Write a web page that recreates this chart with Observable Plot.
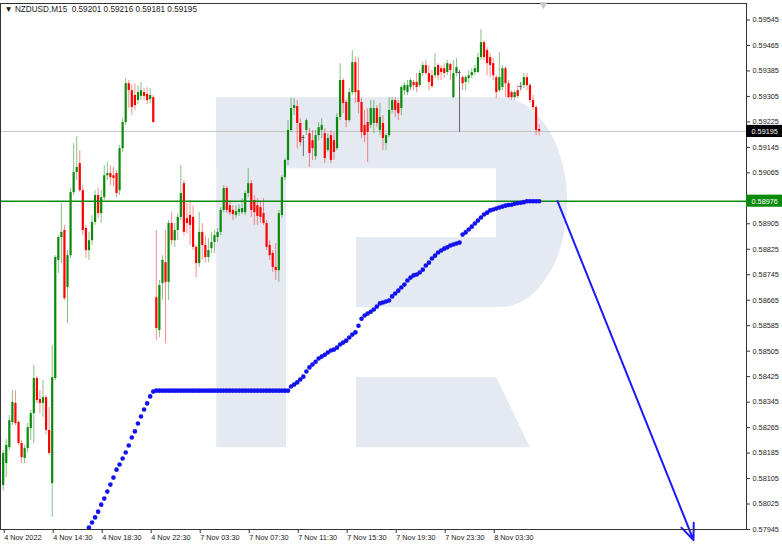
<!DOCTYPE html>
<html><head><meta charset="utf-8">
<script src="https://cdn.jsdelivr.net/npm/d3@7"></script>
<script src="https://cdn.jsdelivr.net/npm/@observablehq/plot@0.6"></script>
<style>
body{margin:0;background:#fff}
#chart{position:relative;width:782px;height:546px;overflow:hidden}
</style>
</head><body><div id="chart"></div>
<script>
// ---- data (NZDUSD M15, bar index 0 = 4 Nov 2022 10:30) ----
const openP = [
.58083,.58152,.58202,.58281,.58341,.58281,.58215,.58168,.58199,.58262,
.58309,.58419,.58353,.58341,.58359,.58256,.58089,.58419,.58790,.58862,
.58884,.58705,.58805,.59003,.59066,.59094,.59009,.58890,.58821,.58852,
.58909,.58994,.58937,.58987,.59056,.59063,.59056,.59063,.59009,.59141,
.59223,.59345,.59323,.59308,.59292,.59305,.59317,.59311,.59295,.59301,
.58673,.58570,.58717,.58783,.58721,.58906,.58852,.58884,.58925,.59031,
.58921,.58931,.58925,.58831,.58780,.58878,.58837,.58799,.58827,.58846,
.58862,.58878,.58947,.59016,.58962,.58947,.58931,.58940,.58940,.58940,
.59000,.59031,.58978,.58962,.58956,.58937,.58906,.58837,.58812,.58768,
.58758,.58931,.59050,.59104,.59198,.59267,.59273,.59220,.59176,.59198,
.59188,.59166,.59116,.59182,.59198,.59188,.59135,.59182,.59166,.59141,
.59239,.59355,.59286,.59229,.59317,.59411,.59323,.59286,.59214,.59223,
.59214,.59220,.59267,.59198,.59220,.59157,.59182,.59261,.59292,.59283,
.59267,.59323,.59317,.59333,.59349,.59349,.59339,.59377,.59402,.59377,
.59370,.59370,.59402,.59392,.59392,.59380,.59405,.59301,.59377,.59380,
.59364,.59349,.59361,.59370,.59380,.59380,.59427,.59474,.59449,.59427,
.59408,.59364,.59323,.59333,.59392,.59345,.59317,.59301,.59323,.59336,
.59339,.59364,.59339,.59292,.59270,.59201];
const highP = [
.58193,.58228,.58303,.58381,.58381,.58287,.58224,.58209,.58278,.58319,
.58460,.58425,.58381,.58413,.58366,.58328,.58523,.58805,.58868,.58969,
.58900,.58821,.59016,.59157,.59179,.59135,.59025,.58900,.58878,.58931,
.59009,.59016,.59009,.59088,.59097,.59088,.59082,.59072,.59151,.59235,
.59361,.59355,.59342,.59345,.59339,.59349,.59330,.59333,.59330,.59308,
.58884,.58727,.58805,.58884,.58915,.58940,.58906,.58937,.59088,.59041,
.58969,.58978,.58962,.58837,.58940,.58906,.58868,.58859,.58878,.58884,
.58890,.58956,.59025,.59022,.58978,.58962,.58962,.58965,.58984,.59009,
.59078,.59041,.58994,.58984,.58978,.58984,.58915,.58852,.58821,.58843,
.58947,.59056,.59110,.59229,.59301,.59298,.59292,.59235,.59182,.59235,
.59204,.59198,.59198,.59223,.59235,.59204,.59188,.59198,.59192,.59251,
.59408,.59361,.59292,.59330,.59449,.59427,.59427,.59298,.59261,.59267,
.59292,.59292,.59276,.59283,.59245,.59188,.59301,.59301,.59301,.59292,
.59339,.59349,.59355,.59361,.59355,.59377,.59386,.59411,.59418,.59402,
.59386,.59440,.59408,.59402,.59408,.59418,.59411,.59418,.59424,.59386,
.59370,.59370,.59386,.59392,.59402,.59440,.59515,.59480,.59458,.59440,
.59424,.59370,.59443,.59402,.59399,.59355,.59323,.59323,.59339,.59349,
.59377,.59377,.59345,.59308,.59276,.59216];
const lowP = [
.58067,.58108,.58193,.58271,.58271,.58209,.58152,.58152,.58184,.58224,
.58215,.58341,.58309,.58297,.58243,.58177,.57983,.58413,.58749,.58780,
.58664,.58592,.58796,.58994,.59041,.59003,.58868,.58796,.58790,.58837,
.58900,.58921,.58906,.58978,.59041,.59025,.59022,.58987,.58994,.59129,
.59214,.59267,.59245,.59261,.59279,.59292,.59292,.59279,.59283,.59220,
.58538,.58548,.58664,.58529,.58664,.58837,.58831,.58852,.58915,.58868,
.58874,.58837,.58821,.58736,.58768,.58790,.58783,.58783,.58812,.58812,
.58846,.58868,.58940,.58937,.58931,.58915,.58921,.58928,.58934,.58931,
.58987,.58925,.58900,.58900,.58906,.58900,.58821,.58790,.58752,.58727,
.58721,.58921,.59041,.59088,.59192,.59245,.59141,.59148,.59116,.59182,
.59082,.59104,.59104,.59166,.59173,.59094,.59129,.59094,.59104,.59135,
.59229,.59251,.59207,.59223,.59308,.59283,.59251,.59173,.59160,.59097,
.59204,.59188,.59207,.59182,.59135,.59135,.59176,.59251,.59239,.59229,
.59245,.59308,.59308,.59323,.59323,.59317,.59333,.59367,.59370,.59323,
.59330,.59361,.59355,.59355,.59361,.59370,.59355,.59298,.59367,.59192,
.59323,.59323,.59345,.59361,.59370,.59377,.59418,.59418,.59370,.59364,
.59355,.59298,.59317,.59323,.59301,.59298,.59292,.59292,.59298,.59323,
.59330,.59323,.59283,.59261,.59182,.59181];
const closeP = [
.58184,.58209,.58287,.58344,.58278,.58215,.58171,.58199,.58265,.58309,
.58419,.58350,.58341,.58359,.58256,.58184,.58422,.58799,.58862,.58878,
.58670,.58805,.59003,.59066,.59082,.59009,.58884,.58821,.58852,.58909,
.58994,.58937,.58987,.59056,.59063,.59050,.59047,.59000,.59141,.59223,
.59345,.59323,.59270,.59276,.59317,.59323,.59305,.59292,.59308,.59223,
.58576,.58711,.58790,.58721,.58906,.58852,.58884,.58925,.59000,.58878,
.58906,.58900,.58831,.58780,.58878,.58837,.58799,.58821,.58846,.58868,
.58878,.58947,.59016,.58947,.58940,.58934,.58943,.58950,.58953,.59000,
.59031,.58947,.58940,.58928,.58925,.58906,.58831,.58805,.58768,.58758,
.58937,.59050,.59104,.59198,.59267,.59276,.59220,.59160,.59176,.59229,
.59126,.59141,.59182,.59207,.59214,.59110,.59173,.59104,.59129,.59239,
.59355,.59283,.59229,.59317,.59411,.59317,.59286,.59192,.59182,.59192,
.59267,.59267,.59220,.59239,.59173,.59182,.59261,.59292,.59261,.59251,
.59333,.59339,.59339,.59355,.59339,.59333,.59377,.59402,.59377,.59349,
.59336,.59396,.59370,.59380,.59377,.59408,.59386,.59377,.59396,.59380,
.59345,.59364,.59370,.59380,.59392,.59427,.59474,.59427,.59408,.59402,
.59370,.59317,.59364,.59392,.59345,.59301,.59301,.59317,.59305,.59336,
.59364,.59339,.59292,.59270,.59198,.59195];

// blue dotted indicator, one value per bar starting at bar 27
const indicatorStart = 27;
const indicator = [
.57932,.57951,.57967,.57983,.58001,.58023,.58042,.58064,.58086,.58108,
.58133,.58149,.58168,.58187,.58209,.58234,.58253,.58278,.58300,.58322,
.58341,.58363,.58378,
.58381,.58381,.58381,.58381,.58381,.58381,.58381,.58381,.58381,.58381,
.58381,.58381,.58381,.58381,.58381,.58381,.58381,.58381,.58381,.58381,
.58381,.58381,.58381,.58381,.58381,.58381,.58381,.58381,.58381,.58381,
.58381,.58381,.58381,.58381,.58381,.58381,.58381,.58381,.58381,.58381,
.58381,.58381,.58381,.58381,
.58394,.58400,.58407,.58416,.58425,.58441,.58454,.58463,.58472,.58482,
.58488,.58494,.58501,.58507,.58510,.58516,.58526,.58532,.58538,.58548,
.58557,.58564,.58585,.58607,.58617,.58623,.58629,.58636,.58645,.58655,
.58658,.58661,.58664,.58677,.58686,.58695,.58705,.58714,.58727,.58736,
.58743,.58746,.58752,.58761,.58774,.58783,.58796,.58805,.58815,.58821,
.58827,.58831,.58837,.58840,.58843,.58846,.58871,.58878,.58887,.58896,
.58906,.58915,.58925,.58934,.58940,.58947,.58950,.58953,.58956,.58959,
.58962,.58964,.58965,.58968,.58970,.58971,.58973,.58976,.58976,.58976,
.58976,.58976];

const timeTickBars = [0,16,32,48,64,80,96,112,128,144,160];
const timeTickLabels = ["4 Nov 2022","4 Nov 14:30","4 Nov 18:30","4 Nov 22:30","7 Nov 03:30",
  "7 Nov 07:30","7 Nov 11:30","7 Nov 15:30","7 Nov 19:30","7 Nov 23:30","8 Nov 03:30"];
const priceTicks = [0.57945,0.58025,0.58105,0.58185,0.58265,0.58345,0.58425,0.58505,0.58585,0.58665,
  0.58745,0.58825,0.58905,0.58985,0.59065,0.59145,0.59225,0.59305,0.59385,0.59465,0.59545];
const hiddenTick = 0.58985; // covered by the level tag
const bidPrice = 0.59195;
const levelPrice = 0.58976;
const forecast = [{bar1: 181, p1: 0.58976, bar2: 225.4, p2: 0.57912}];
const shiftMarkBar = 176.4;
const header = "\u25BC NZDUSD,M15\u00a0\u00a00.59201 0.59216 0.59181 0.59195";

// watermark logo, in bar / price units
const logoBowl = [{x1: 115.4, x2: 184.3, y1: 0.58642, y2: 0.59301}];
const logoBlocks = [
  {x1: 69.7, x2: 92.5, y1: 0.58202, y2: 0.59301},
  {x1: 69.7, x2: 162.4, y1: 0.59078, y2: 0.59301},
  {x1: 115.4, x2: 162.4, y1: 0.58642, y2: 0.58862}];
const logoHole = [{x1: 92.5, x2: 161.1, y1: 0.58862, y2: 0.59078}];
const logoLeg = [{x: 115.4, lo: 0.58202, hi: 0.58422}, {x: 161.1, lo: 0.58202, hi: 0.58422}, {x: 172.2, lo: 0.58202, hi: 0.58202}];

// ---- build tables ----
const bars = openP.map((o, i) => ({i, o, h: highP[i], l: lowP[i], c: closeP[i]}));
const up = bars.filter(d => d.c > d.o);
const down = bars.filter(d => d.c < d.o);
const flat = bars.filter(d => d.c === d.o);
const ind = indicator.map((v, k) => ({i: indicatorStart + k, v}));
const xMin = -0.88, xMax = 242.7, yMin = 0.57945, yMax = 0.595968;
const tags = [{p: bidPrice, bg: "#000000"}, {p: levelPrice, bg: "#0a8a0a"}];

const GREEN = "#0b8a0b", RED = "#ff0000", LOGO = "#e4e9f2";

const chart = Plot.plot({
  width: 782, height: 546,
  marginLeft: 0, marginRight: 36, marginTop: 3, marginBottom: 17,
  style: {fontFamily: "'Liberation Sans', Arial, sans-serif", fontSize: "7.3px", color: "#222", background: "#fff", overflow: "visible"},
  x: {domain: [xMin, xMax], axis: null},
  y: {domain: [yMin, yMax], axis: null},
  marks: [
    // watermark
    Plot.rect(logoBowl, {x1: "x1", x2: "x2", y1: "y1", y2: "y2", fill: LOGO, rx: 67, ry: 105}),
    Plot.rect(logoHole, {x1: "x1", x2: "x2", y1: "y1", y2: "y2", fill: "#ffffff"}),
    Plot.rect(logoBlocks, {x1: "x1", x2: "x2", y1: "y1", y2: "y2", fill: LOGO}),
    Plot.areaY(logoLeg, {x: "x", y1: "lo", y2: "hi", fill: LOGO}),
    // bid line
    Plot.ruleY([bidPrice], {stroke: "#c4c4c4", strokeWidth: 1}),
    // wicks
    Plot.ruleX(up, {x: "i", y1: "l", y2: "h", stroke: GREEN, strokeOpacity: 0.5, strokeWidth: 1}),
    Plot.ruleX(down, {x: "i", y1: "l", y2: "h", stroke: RED, strokeOpacity: 0.45, strokeWidth: 1}),
    Plot.ruleX(flat, {x: "i", y1: "l", y2: "h", stroke: "#666", strokeWidth: 1}),
    // bodies
    Plot.ruleX(up, {x: "i", y1: "o", y2: "c", stroke: GREEN, strokeWidth: 2.2}),
    Plot.ruleX(down, {x: "i", y1: "o", y2: "c", stroke: RED, strokeWidth: 2.2}),
    Plot.ruleY(flat, {x1: d => d.i - 0.5, x2: d => d.i + 0.5, y: "o", stroke: "#555", strokeWidth: 1}),
    // level line
    Plot.ruleY([levelPrice], {stroke: "#0a8a0a", strokeWidth: 1.6}),
    // indicator dots
    Plot.dot(ind, {x: "i", y: "v", r: 2.3, fill: "#1212ee", clip: true}),
    // forecast arrow
    Plot.arrow(forecast, {x1: "bar1", y1: "p1", x2: "bar2", y2: "p2", stroke: "#1a1aff", strokeWidth: 2, headLength: 13, headAngle: 45}),
    // frame
    Plot.frame({stroke: "#333", strokeWidth: 1}),
    // chart-shift marker
    Plot.dot([shiftMarkBar], {x: d => d, y: () => yMax, symbol: "triangle", rotate: 180, r: 3, fill: "#c8c8c8", dy: 1}),
    // axes
    Plot.axisY(priceTicks, {anchor: "right", tickSize: 3, tickPadding: 3,
      tickFormat: d => d === hiddenTick ? "" : d.toFixed(5), stroke: "#333", fill: "#222"}),
    Plot.axisX(timeTickBars, {anchor: "bottom", tickSize: 4, tickPadding: 1, textAnchor: "start", dx: 1,
      tickFormat: (d) => timeTickLabels[timeTickBars.indexOf(d)], stroke: "#333", fill: "#222"}),
    // price tags
    Plot.rect(tags, {x1: () => xMax, x2: () => xMax + 11.8, y1: d => d.p - 0.00019, y2: d => d.p + 0.00019, fill: "bg"}),
    Plot.text(tags, {x: () => xMax, y: "p", text: d => d.p.toFixed(5), fill: "#fff", textAnchor: "start", dx: 5}),
    // header
    Plot.text([header], {frameAnchor: "top-left", dx: 4, dy: 3, lineAnchor: "top", textAnchor: "start", fill: "#222", fontSize: 8.2})
  ]
});
document.getElementById("chart").appendChild(chart);
</script>
</body></html>
